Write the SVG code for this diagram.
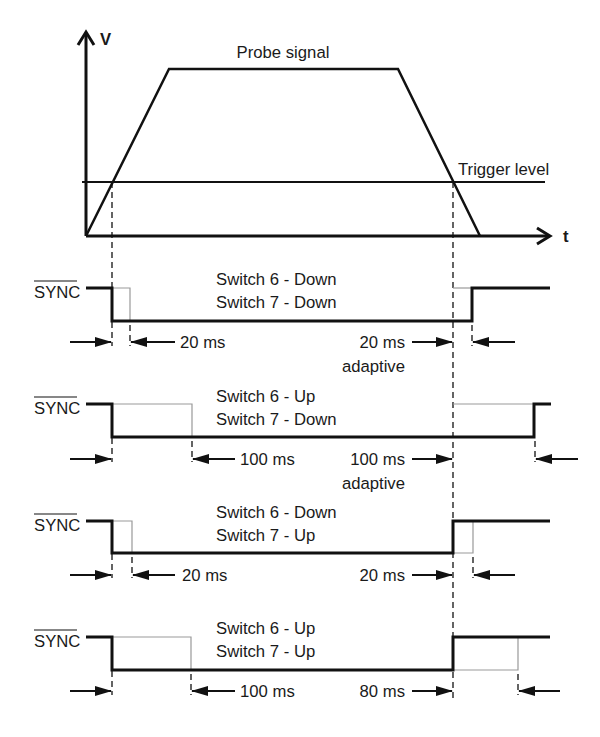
<svg xmlns="http://www.w3.org/2000/svg" width="600" height="737" viewBox="0 0 600 737">
<style>
text{font-family:"Liberation Sans",Arial,sans-serif;font-size:16.7px;fill:#1a1a1a}
.sig{fill:none;stroke:#111;stroke-width:3;stroke-linejoin:miter}
.thin{fill:none;stroke:#999;stroke-width:1.2}
.dash{stroke:#111;stroke-width:1.3;stroke-dasharray:6 4;fill:none}
.arr{stroke:#111;stroke-width:2;marker-end:url(#ah)}
.ax{stroke:#111;stroke-width:3;fill:none}
</style>
<defs>
<marker id="ah" markerUnits="userSpaceOnUse" markerWidth="17" markerHeight="10" refX="16" refY="5" orient="auto">
<path d="M0,0 L17,5 L0,10 Z" fill="#111"/>
</marker>
</defs>
<rect width="600" height="737" fill="#fff"/>
<g id="axes">
<line class="ax" x1="86" y1="33" x2="86" y2="236"/>
<polyline class="ax" points="78,45 86,32 94,45" stroke-linejoin="miter"/>
<line class="ax" x1="86" y1="236" x2="549" y2="236"/>
<polyline class="ax" points="537,228 550,236 537,244"/>
<text x="100" y="45" font-weight="bold">V</text>
<text x="563" y="242" font-weight="bold">t</text>
</g>
<g id="probe">
<polyline fill="none" stroke="#111" stroke-width="2.5" points="86,236 169,69 398,69 480,236"/>
<text x="283" y="58" text-anchor="middle">Probe signal</text>
</g>
<g id="trigger">
<line x1="82" y1="182" x2="545" y2="182" stroke="#111" stroke-width="2"/>
<text x="458" y="175">Trigger level</text>
</g>
<g id="connectors">
<line class="dash" x1="112" y1="182" x2="112" y2="346"/>
<line class="dash" x1="453" y1="182" x2="453" y2="700"/>
<line class="dash" x1="112" y1="438" x2="112" y2="462"/>
<line class="dash" x1="112" y1="554" x2="112" y2="578"/>
<line class="dash" x1="112" y1="671" x2="112" y2="695"/>
</g>
<g id="row1">
<text x="34" y="298">SYNC</text><line x1="34" y1="281" x2="77" y2="281" stroke="#111" stroke-width="1.2"/>
<polyline class="thin" points="112,288 130,288 130,321"/>
<polyline class="thin" points="453,288 472,288"/>
<polyline class="sig" points="86,288 112,288 112,321 472,321 472,288 550,288"/>
<text x="216" y="285">Switch 6 - Down</text>
<text x="216" y="308">Switch 7 - Down</text>
<line class="dash" x1="130" y1="325" x2="130" y2="346"/>
<line class="dash" x1="472" y1="325" x2="472" y2="346"/>
<line class="arr" x1="70" y1="342" x2="111" y2="342"/>
<line class="arr" x1="175" y1="342" x2="131" y2="342"/>
<text x="180" y="348">20 ms</text>
<text x="405" y="348" text-anchor="end">20 ms</text>
<line class="arr" x1="412" y1="342" x2="452" y2="342"/>
<line class="arr" x1="515" y1="342" x2="473" y2="342"/>
<text x="405" y="372" text-anchor="end">adaptive</text>
</g>
<g id="row2">
<text x="34" y="414">SYNC</text><line x1="34" y1="397" x2="77" y2="397" stroke="#111" stroke-width="1.2"/>
<polyline class="thin" points="112,404 192,404 192,437"/>
<polyline class="thin" points="453,404 534,404"/>
<polyline class="sig" points="86,404 112,404 112,437 534,437 534,404 551,404"/>
<text x="216" y="402">Switch 6 - Up</text>
<text x="216" y="425">Switch 7 - Down</text>
<line class="dash" x1="192" y1="441" x2="192" y2="462"/>
<line class="dash" x1="535" y1="441" x2="535" y2="462"/>
<line class="arr" x1="70" y1="459" x2="111" y2="459"/>
<line class="arr" x1="235" y1="459" x2="193" y2="459"/>
<text x="240" y="465">100 ms</text>
<text x="405" y="465" text-anchor="end">100 ms</text>
<line class="arr" x1="412" y1="459" x2="452" y2="459"/>
<line class="arr" x1="578" y1="459" x2="536" y2="459"/>
<text x="405" y="489" text-anchor="end">adaptive</text>
</g>
<g id="row3">
<text x="34" y="531">SYNC</text><line x1="34" y1="514" x2="77" y2="514" stroke="#111" stroke-width="1.2"/>
<polyline class="thin" points="112,521 132,521 132,553"/>
<polyline class="thin" points="453,553 473,553 473,521"/>
<polyline class="sig" points="86,521 112,521 112,553 453,553 453,521 550,521"/>
<text x="216" y="518">Switch 6 - Down</text>
<text x="216" y="541">Switch 7 - Up</text>
<line class="dash" x1="132" y1="557" x2="132" y2="578"/>
<line class="dash" x1="473" y1="557" x2="473" y2="578"/>
<line class="arr" x1="70" y1="575" x2="111" y2="575"/>
<line class="arr" x1="175" y1="575" x2="133" y2="575"/>
<text x="182" y="581">20 ms</text>
<text x="405" y="581" text-anchor="end">20 ms</text>
<line class="arr" x1="412" y1="575" x2="452" y2="575"/>
<line class="arr" x1="515" y1="575" x2="474" y2="575"/>
</g>
<g id="row4">
<text x="34" y="647">SYNC</text><line x1="34" y1="630" x2="77" y2="630" stroke="#111" stroke-width="1.2"/>
<polyline class="thin" points="112,637 191,637 191,670"/>
<polyline class="thin" points="453,670 518,670 518,637"/>
<polyline class="sig" points="86,637 112,637 112,670 453,670 453,637 550,637"/>
<text x="216" y="634">Switch 6 - Up</text>
<text x="216" y="657">Switch 7 - Up</text>
<line class="dash" x1="191" y1="674" x2="191" y2="695"/>
<line class="dash" x1="518" y1="674" x2="518" y2="695"/>
<line class="arr" x1="70" y1="691" x2="111" y2="691"/>
<line class="arr" x1="235" y1="691" x2="192" y2="691"/>
<text x="240" y="697">100 ms</text>
<text x="405" y="697" text-anchor="end">80 ms</text>
<line class="arr" x1="412" y1="691" x2="452" y2="691"/>
<line class="arr" x1="560" y1="691" x2="519" y2="691"/>
</g>
</svg>
